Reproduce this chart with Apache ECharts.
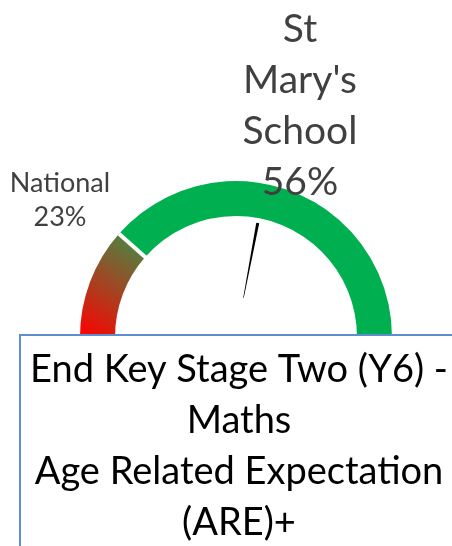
<!DOCTYPE html>
<html>
<head>
<meta charset="utf-8">
<script src="https://cdn.jsdelivr.net/npm/echarts@6/dist/echarts.min.js"></script>
<style>
  html, body { margin: 0; padding: 0; background: #fff; }
  #chart { width: 452px; height: 546px; }
</style>
</head>
<body>
<div id="chart"></div>
<script>
// values
const schoolName = "St\nMary's\nSchool";
const schoolValue = 56;
const nationalName = 'National';
const nationalValue = 23;
const boxLines = ['End Key Stage Two (Y6) -', 'Maths', 'Age Related Expectation', '(ARE)+'];

const font = 'Lato';
const centre = [236, 337];

const chart = echarts.init(document.getElementById('chart'));

const nationalGradient = new echarts.graphic.LinearGradient(0, 1, 1, 0, [
    { offset: 0, color: '#ff0000' },
    { offset: 1, color: '#3d9048' }
]);

const option = {
    animation: false,
    series: [
        {
            // the band plus the school pointer
            type: 'gauge',
            center: centre,
            radius: 156,
            startAngle: 180,
            endAngle: 0,
            min: 0,
            max: 100,
            axisLine: {
                lineStyle: {
                    width: 35,
                    color: [[nationalValue / 100, nationalGradient], [1, '#00b050']]
                }
            },
            splitLine: { show: false },
            axisTick: { show: false },
            axisLabel: { show: false },
            anchor: { show: false },
            pointer: {
                icon: 'path://M0,0 L10,0 L6,100 L4,100 Z',
                length: 76,
                width: 3,
                offsetCenter: [0, -40],
                keepAspect: false,
                itemStyle: { color: '#000' }
            },
            title: { show: false },
            detail: {
                offsetCenter: [64, -231],
                formatter: v => schoolName + '\n' + v + '%',
                fontFamily: font,
                fontSize: 39,
                lineHeight: 51,
                fontWeight: 'normal',
                color: '#404040'
            },
            data: [{ value: schoolValue }]
        },
        {
            // white gap marking the national value
            type: 'gauge',
            center: centre,
            radius: 156,
            startAngle: 180,
            endAngle: 0,
            min: 0,
            max: 100,
            axisLine: { show: false },
            splitLine: { show: false },
            axisTick: { show: false },
            axisLabel: { show: false },
            anchor: { show: false },
            pointer: {
                icon: 'rect',
                length: 36,
                width: 4,
                offsetCenter: [0, -120],
                keepAspect: false,
                itemStyle: { color: '#fff' }
            },
            title: { show: false },
            detail: {
                offsetCenter: [-176, -137],
                formatter: v => nationalName + '\n' + v + '%',
                fontFamily: font,
                fontSize: 27,
                lineHeight: 34,
                fontWeight: 'normal',
                color: '#404040'
            },
            data: [{ value: nationalValue }]
        }
    ],
    graphic: [
        {
            type: 'rect',
            z: 100,
            shape: { x: 20, y: 335, width: 440, height: 230 },
            style: { fill: '#fff', stroke: '#5b8fd0', lineWidth: 2 }
        },
        {
            type: 'text',
            z: 101,
            x: 239,
            y: 446,
            style: {
                text: boxLines.join('\n'),
                align: 'center',
                verticalAlign: 'middle',
                fontFamily: font,
                fontSize: 38,
                lineHeight: 51,
                fill: '#000'
            }
        }
    ]
};

chart.setOption(option);
</script>
</body>
</html>
